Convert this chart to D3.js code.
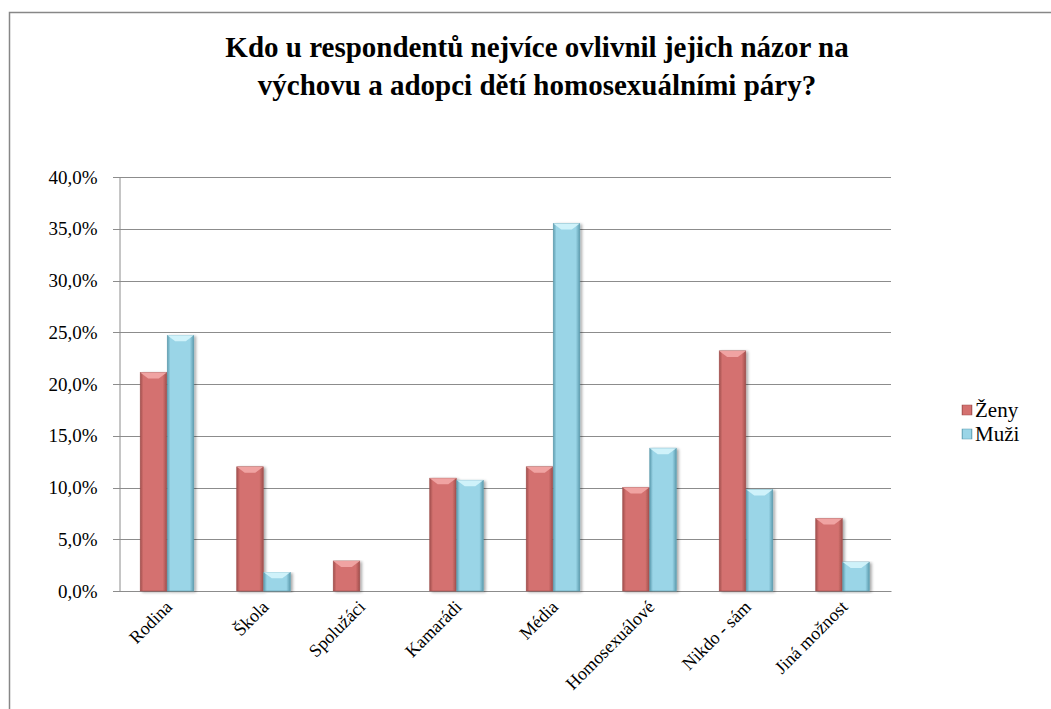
<!DOCTYPE html>
<html><head><meta charset="utf-8">
<script src="https://cdn.jsdelivr.net/npm/d3@7"></script>
</head><body style="margin:0;background:#fff">
<script>
const categories = ["Rodina","Škola","Spolužáci","Kamarádi","Média","Homosexuálové","Nikdo - sám","Jiná možnost"];
const seriesNames = ["Ženy","Muži"];
const zeny = [21.1,12.0,2.9,10.9,12.0,10.0,23.2,7.0];
const muzi = [24.7,1.8,0,10.7,35.5,13.8,9.8,2.8];
const yTicks = [0,5,10,15,20,25,30,35,40];
const titleLines = ["Kdo u respondentů nejvíce ovlivnil jejich názor na","výchovu a adopci dětí homosexuálními páry?"];

const FONT="'Liberation Serif', serif";
const W=1051,H=709;
const svg=d3.select("body").append("svg").attr("width",W).attr("height",H).style("display","block");
const defs=svg.append("defs");
const colors={"Ženy":{base:"#D4716F",dark:"#A04F4D",light:"#F3A9A7"},"Muži":{base:"#9AD5E7",dark:"#5E9DB0",light:"#D5F5FC"}};
Object.entries(colors).forEach(([k,c],i)=>{
  const g=defs.append("linearGradient").attr("id","g"+i).attr("x1",0).attr("x2",1).attr("y1",0).attr("y2",0);
  g.append("stop").attr("offset","0").attr("stop-color",c.dark);
  g.append("stop").attr("offset","0.12").attr("stop-color",c.base);
  g.append("stop").attr("offset","0.85").attr("stop-color",c.base);
  g.append("stop").attr("offset","1").attr("stop-color",c.dark);
});
const f=defs.append("filter").attr("id","sh").attr("x","-20%").attr("y","-5%").attr("width","150%").attr("height","115%");
f.append("feGaussianBlur").attr("in","SourceAlpha").attr("stdDeviation",1.5).attr("result","b");
f.append("feOffset").attr("in","b").attr("dx",1.5).attr("dy",1).attr("result","o");
f.append("feComponentTransfer").append("feFuncA").attr("type","linear").attr("slope",0.35);
const m=f.append("feMerge");m.append("feMergeNode");m.append("feMergeNode").attr("in","SourceGraphic");

function serif(sel){ return sel.style("font-family",FONT,"important"); }

// outer border
svg.append("rect").attr("x",9.5).attr("y",12.5).attr("width",1060).attr("height",720).attr("fill","none").attr("stroke","#878787").attr("stroke-width",1.5);

// title
svg.append("g").selectAll("text").data(titleLines).join("text")
  .attr("x",537).attr("y",(d,i)=>57+i*38).attr("text-anchor","middle")
  .attr("font-weight","bold").attr("font-size",29).attr("fill","#000").text(d=>d).call(serif);

const plot={l:119,r:891,t:177,b:591};
const x0=d3.scaleBand().domain(categories).range([plot.l,plot.r]).paddingInner(0.44).paddingOuter(0.22);
const x1=d3.scaleBand().domain(seriesNames).range([0,x0.bandwidth()]);
const y=d3.scaleLinear().domain([0,40]).range([plot.b,plot.t]);

// gridlines
svg.append("g").selectAll("line").data(yTicks).join("line")
  .attr("x1",plot.l).attr("x2",plot.r).attr("y1",d=>Math.round(y(d))+0.5).attr("y2",d=>Math.round(y(d))+0.5)
  .attr("stroke","#8c8c8c").attr("stroke-width",1);

// y axis
const yAxis=d3.axisLeft(y).tickValues(yTicks).tickSize(0).tickPadding(22).tickFormat(d=>d.toFixed(1).replace(".",",")+"%");
const ya=svg.append("g").attr("transform",`translate(${plot.l+0.5},0)`).call(yAxis);
ya.attr("font-size",19).call(serif);
ya.select(".domain").attr("stroke","#8c8c8c");
ya.selectAll("text").attr("font-size",19).attr("fill","#000").call(serif);
svg.append("g").selectAll("line").data(yTicks).join("line").attr("x1",plot.l-6).attr("x2",plot.l).attr("y1",d=>Math.round(y(d))+0.5).attr("y2",d=>Math.round(y(d))+0.5).attr("stroke","#8c8c8c");

// x axis
const xAxis=d3.axisBottom(x0).tickSize(0).tickPadding(0);
const xa=svg.append("g").attr("transform",`translate(0,${plot.b})`).call(xAxis);
xa.attr("font-size",18).call(serif);
xa.select(".domain").attr("stroke","#8c8c8c");
xa.selectAll("text").attr("font-size",18).attr("fill","#000").call(serif)
  .attr("text-anchor","end").attr("dy",0).attr("transform","translate(6,17) rotate(-45)");

// bars
const data=categories.map((c,i)=>({c,vals:[{s:"Ženy",v:zeny[i]},{s:"Muži",v:muzi[i]}]}));
const groups=svg.append("g").selectAll("g").data(data).join("g").attr("transform",d=>`translate(${x0(d.c)},0)`);
const bars=groups.selectAll("g").data(d=>d.vals.filter(v=>v.v>0)).join("g").attr("filter","url(#sh)");
bars.append("rect").attr("x",d=>x1(d.s)).attr("width",x1.bandwidth()-0.5).attr("y",d=>y(d.v)).attr("height",d=>y(0)-y(d.v))
  .attr("fill",d=>`url(#g${seriesNames.indexOf(d.s)})`).attr("stroke",d=>colors[d.s].dark).attr("stroke-width",0.6);
bars.append("path").attr("d",d=>{
  const xl=x1(d.s),w=x1.bandwidth()-0.5,t=y(d.v),h=Math.min(6,(y(0)-y(d.v))/2);
  return `M${xl},${t}L${xl+w},${t}L${xl+w-w*0.3},${t+h}L${xl+w*0.3},${t+h}Z`;
}).attr("fill",d=>colors[d.s].light).attr("opacity",0.9);

// legend
const lg=svg.append("g").selectAll("g").data(seriesNames).join("g").attr("transform",(d,i)=>`translate(962,${405+i*24})`);
lg.append("rect").attr("width",10).attr("height",10).attr("fill",(d,i)=>`url(#g${i})`).attr("stroke",d=>colors[d].dark).attr("stroke-width",0.5);
lg.append("text").attr("x",13).attr("y",12).attr("font-size",21).attr("fill","#000").text(d=>d).call(serif);
</script>
</body></html>
